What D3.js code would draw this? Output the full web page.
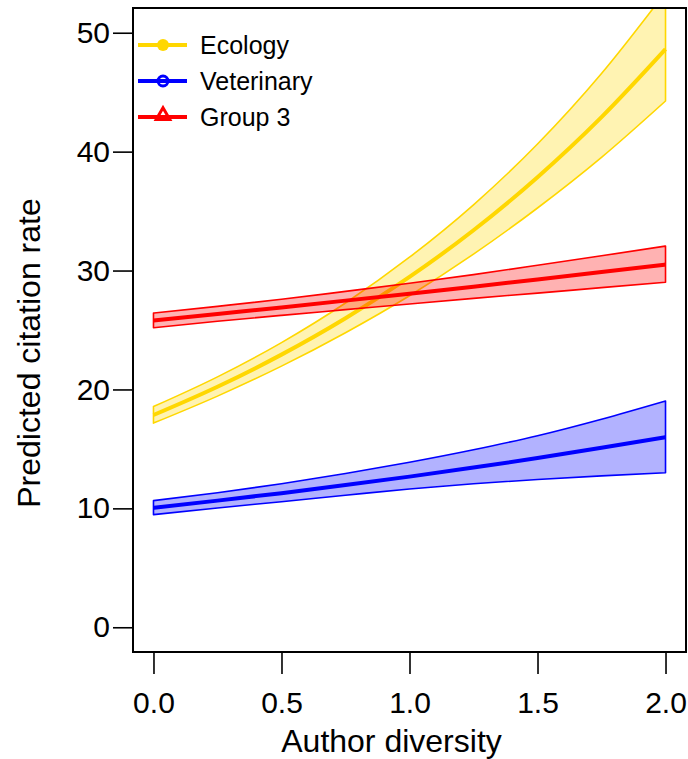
<!DOCTYPE html>
<html>
<head>
<meta charset="utf-8">
<script src="https://cdn.jsdelivr.net/npm/d3@7"></script>
<style>
  body { margin: 0; background: #fff; }
  text { font-family: "Liberation Sans", Arial, sans-serif; }
</style>
</head>
<body>
<div id="viz"></div>
<script>
// author diversity grid
var xs = [0, 0.25, 0.5, 0.75, 1, 1.25, 1.5, 1.75, 2];

// predicted citation rate
var ecoMean = [17.85, 20.23, 22.93, 25.99, 29.46, 33.39, 37.85, 42.90, 48.62];
var ecoLow  = [17.17, 19.44, 21.96, 24.77, 27.88, 31.38, 35.26, 39.52, 44.26];
var ecoHigh = [18.56, 21.06, 23.94, 27.27, 31.12, 35.53, 40.64, 46.57, 53.41];

var vetMean = [10.05, 10.65, 11.28, 11.96, 12.67, 13.43, 14.23, 15.09, 15.99];
var vetLow  = [9.47, 10.03, 10.56, 11.10, 11.63, 12.07, 12.43, 12.73, 12.99];
var vetHigh = [10.65, 11.31, 12.07, 12.93, 13.88, 14.93, 16.11, 17.50, 19.03];

var g3Mean = [25.80, 26.35, 26.90, 27.47, 28.05, 28.64, 29.25, 29.87, 30.50];
var g3Low  = [25.19, 25.73, 26.23, 26.71, 27.19, 27.66, 28.10, 28.56, 29.01];
var g3High = [26.43, 26.99, 27.58, 28.25, 28.93, 29.66, 30.44, 31.24, 32.06];

var groupNames = ['Ecology', 'Veterinary', 'Group 3'];
var groupColors = ['#FFD700', '#0000FF', '#FF0000'];
var xTicks = [0, 0.5, 1, 1.5, 2];
var yTicks = [0, 10, 20, 30, 40, 50];

var width = 688, height = 759;
var box = { left: 133, right: 686, top: 8, bottom: 652 };

var svg = d3.select('#viz').append('svg')
  .attr('width', width)
  .attr('height', height);

var x = d3.scaleLinear().domain([-0.08, 2.08]).range([box.left, box.right]);
var y = d3.scaleLinear().domain([-2.08, 52.08]).range([box.bottom, box.top]);

svg.append('clipPath').attr('id', 'plotclip')
  .append('rect')
  .attr('x', box.left).attr('y', box.top)
  .attr('width', box.right - box.left).attr('height', box.bottom - box.top);

var groups = [
  { mean: ecoMean, low: ecoLow, high: ecoHigh },
  { mean: vetMean, low: vetLow, high: vetHigh },
  { mean: g3Mean, low: g3Low, high: g3High }
];

var area = d3.area()
  .curve(d3.curveMonotoneX)
  .x(function(d) { return x(d.x); })
  .y0(function(d) { return y(d.lo); })
  .y1(function(d) { return y(d.hi); });

var line = d3.line()
  .curve(d3.curveMonotoneX)
  .x(function(d) { return x(d.x); })
  .y(function(d) { return y(d.v); });

var plot = svg.append('g').attr('clip-path', 'url(#plotclip)');

groups.forEach(function(g, gi) {
  var band = xs.map(function(v, i) { return { x: v, lo: g.low[i], hi: g.high[i] }; });
  var col = groupColors[gi];
  // band polygon, filled with alpha and outlined
  plot.append('path')
    .datum(band)
    .attr('d', area)
    .attr('fill', col)
    .attr('fill-opacity', 0.3)
    .attr('stroke', col)
    .attr('stroke-width', 1.6)
    .attr('stroke-linejoin', 'round');
  plot.append('path')
    .datum(xs.map(function(v, i) { return { x: v, v: g.mean[i] }; }))
    .attr('d', line)
    .attr('fill', 'none')
    .attr('stroke', col)
    .attr('stroke-width', 4);
});

// frame
svg.append('rect')
  .attr('x', box.left).attr('y', box.top)
  .attr('width', box.right - box.left).attr('height', box.bottom - box.top)
  .attr('fill', 'none').attr('stroke', '#000').attr('stroke-width', 2);

// axes (R style: ticks only, the box supplies the line)
var xAxis = d3.axisBottom(x).tickValues(xTicks).tickSize(22).tickPadding(18)
  .tickFormat(d3.format('.1f'));
var xg = svg.append('g').attr('transform', 'translate(0,' + box.bottom + ')').call(xAxis);
xg.select('.domain').remove();
xg.selectAll('line').attr('stroke', '#000').attr('stroke-width', 1.6);
xg.selectAll('text').attr('fill', '#000').style('font-size', '30px')
  .style('font-family', '"Liberation Sans", Arial, sans-serif');

var yAxis = d3.axisLeft(y).tickValues(yTicks).tickSize(20).tickPadding(3)
  .tickFormat(d3.format('d'));
var yg = svg.append('g').attr('transform', 'translate(' + box.left + ',0)').call(yAxis);
yg.select('.domain').remove();
yg.selectAll('line').attr('stroke', '#000').attr('stroke-width', 1.6);
yg.selectAll('text').attr('fill', '#000').style('font-size', '30px')
  .style('font-family', '"Liberation Sans", Arial, sans-serif');

svg.append('text')
  .attr('x', (box.left + box.right) / 2 - 18)
  .attr('y', 752)
  .attr('text-anchor', 'middle')
  .style('font-size', '32px')
  .text('Author diversity');

svg.append('text')
  .attr('transform', 'translate(40,' + ((box.top + box.bottom) / 2 + 23) + ') rotate(-90)')
  .attr('text-anchor', 'middle')
  .style('font-size', '32px')
  .text('Predicted citation rate');

// legend
var legend = svg.append('g');
groupNames.forEach(function(name, i) {
  var ly = 45 + i * 36;
  var col = groupColors[i];
  legend.append('line')
    .attr('x1', 138).attr('x2', 187).attr('y1', ly).attr('y2', ly)
    .attr('stroke', col).attr('stroke-width', 4);
  if (i === 0) {
    legend.append('circle').attr('cx', 163).attr('cy', ly).attr('r', 6)
      .attr('fill', col);
  } else if (i === 1) {
    legend.append('circle').attr('cx', 163).attr('cy', ly).attr('r', 5)
      .attr('fill', 'none').attr('stroke', col).attr('stroke-width', 3);
  } else {
    legend.append('path')
      .attr('d', d3.symbol().type(d3.symbolTriangle).size(80))
      .attr('transform', 'translate(163,' + (ly - 1.5) + ')')
      .attr('fill', 'none').attr('stroke', col).attr('stroke-width', 3);
  }
  legend.append('text')
    .attr('x', 200).attr('y', ly + 9)
    .style('font-size', '25px')
    .text(name);
});
</script>
</body>
</html>
